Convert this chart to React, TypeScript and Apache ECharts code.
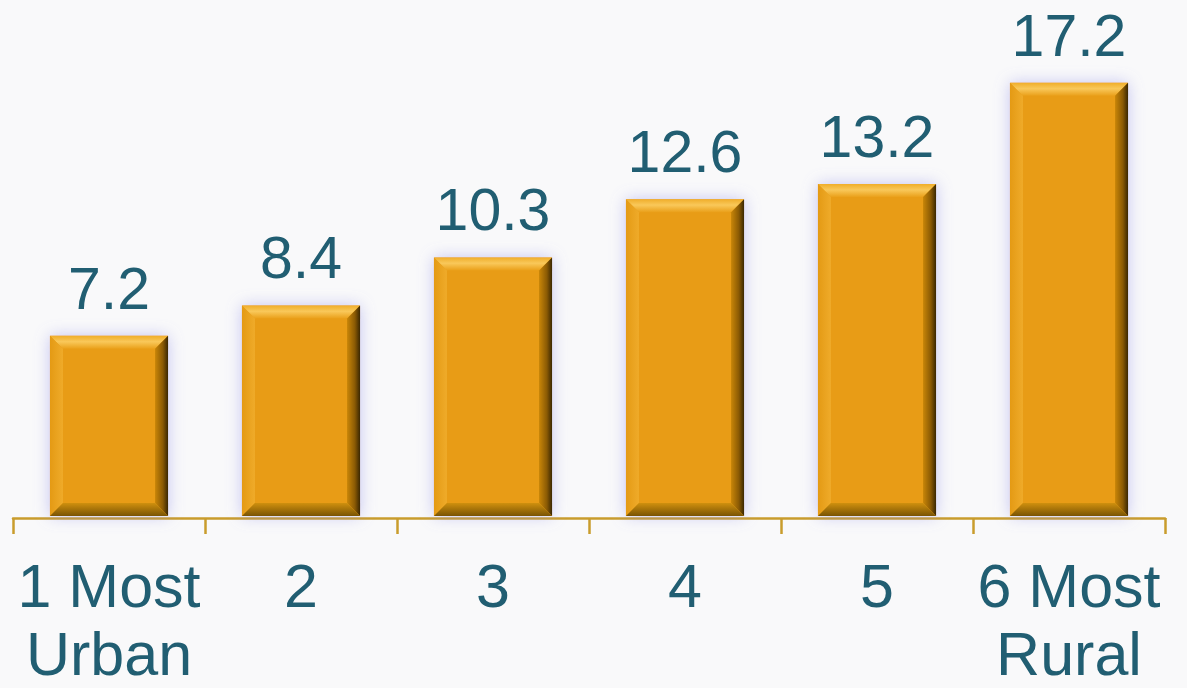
import React, { useEffect, useRef } from "react";
import * as echarts from "echarts";

const categories = ["1 Most\nUrban", "2", "3", "4", "5", "6 Most\nRural"];
const values = [7.2, 8.4, 10.3, 12.6, 13.2, 17.2];

const TEXT_COLOR = "#215e72";
const AXIS_COLOR = "#c99c2c";
const FONT = "Liberation Sans, Arial, sans-serif";

export default function App() {
  const ref = useRef<HTMLDivElement>(null);
  useEffect(() => {
    document.body.style.margin = "0";
    const chart = echarts.init(ref.current!, undefined, { renderer: "svg" });
    const renderItem = (params: any, api: any) => {
      const i = api.value(0);
      const v = api.value(1);
      const base = api.coord([i, 0]);
      const top = api.coord([i, v]);
      const bw = api.size([1, 0])[0] * 0.615;
      const x0 = base[0] - bw / 2;
      const x1 = x0 + bw;
      const y0 = top[1];
      const y1 = base[1] - 2;
      const b = 13;
      return {
        type: "group",
        children: [
          {
            type: "rect",
            shape: { x: x0, y: y0, width: bw, height: y1 - y0 },
            style: { fill: "#e89c12", shadowBlur: 16, shadowColor: "rgba(130,130,230,0.45)" },
          },
          {
            type: "polygon",
            shape: { points: [[x0, y0], [x1, y0], [x1 - b, y0 + b], [x0 + b, y0 + b]] },
            style: {
              fill: new echarts.graphic.LinearGradient(0, 0, 0, 1, [
                { offset: 0, color: "#f0ae2a" },
                { offset: 0.45, color: "#f9c85a" },
                { offset: 1, color: "#eaa01a" },
              ]),
            },
          },
          {
            type: "polygon",
            shape: { points: [[x0, y0], [x0 + b, y0 + b], [x0 + b, y1 - b], [x0, y1]] },
            style: {
              fill: new echarts.graphic.LinearGradient(0, 0, 1, 0, [
                { offset: 0, color: "#e49a14" },
                { offset: 1, color: "#efab2a" },
              ]),
            },
          },
          {
            type: "polygon",
            shape: { points: [[x1, y0], [x1, y1], [x1 - b, y1 - b], [x1 - b, y0 + b]] },
            style: {
              fill: new echarts.graphic.LinearGradient(0, 0, 1, 0, [
                { offset: 0, color: "#c98608" },
                { offset: 0.6, color: "#8a5a04" },
                { offset: 1, color: "#3a2702" },
              ]),
            },
          },
          {
            type: "polygon",
            shape: { points: [[x0, y1], [x1, y1], [x1 - b, y1 - b], [x0 + b, y1 - b]] },
            style: {
              fill: new echarts.graphic.LinearGradient(0, 0, 0, 1, [
                { offset: 0, color: "#cf900e" },
                { offset: 1, color: "#7a5404" },
              ]),
            },
          },
          {
            type: "text",
            x: (x0 + x1) / 2,
            y: y0 - 22,
            style: {
              text: v.toFixed(1),
              align: "center",
              verticalAlign: "bottom",
              fontSize: 59,
              lineHeight: 50,
              fontFamily: FONT,
              fill: TEXT_COLOR,
            },
          },
        ],
      };
    };
    chart.setOption({
      animation: false,
      backgroundColor: "#f9f9fa",
      grid: { left: 13, right: 22, top: 12, bottom: 169 },
      xAxis: {
        type: "category",
        data: categories,
        axisLine: { show: true, lineStyle: { color: AXIS_COLOR, width: 2.5 } },
        axisTick: { show: true, alignWithLabel: false, length: 16, lineStyle: { color: AXIS_COLOR, width: 2.5 } },
        axisLabel: {
          interval: 0,
          fontSize: 61,
          lineHeight: 68,
          margin: 34,
          color: TEXT_COLOR,
          fontFamily: FONT,
        },
      },
      yAxis: { type: "value", min: 0, max: 20, show: false },
      series: [
        {
          type: "custom",
          renderItem,
          data: values.map((v, i) => [i, v]),
          encode: { x: 0, y: 1 },
          clip: false,
        },
      ],
    });
    return () => chart.dispose();
  }, []);
  return <div ref={ref} style={{ width: 1187, height: 688 }} />;
}
